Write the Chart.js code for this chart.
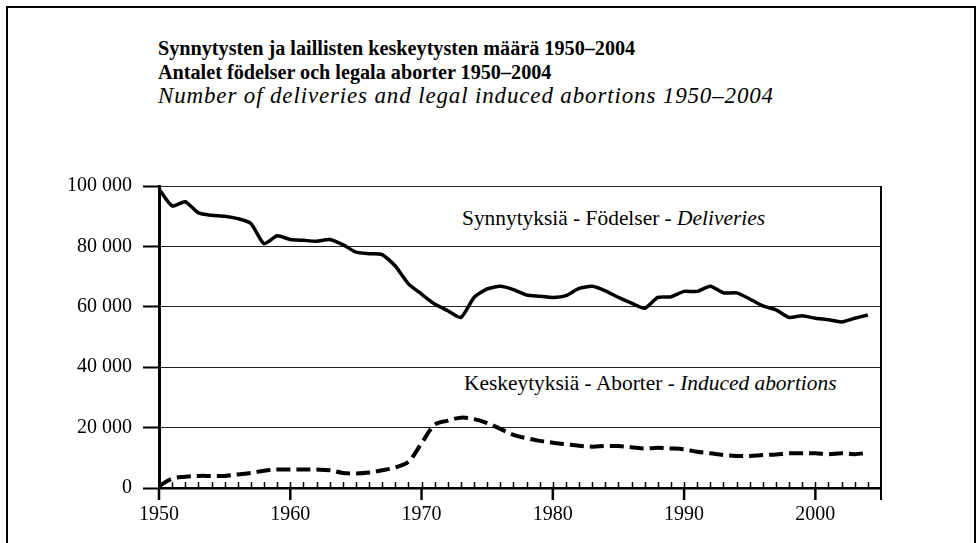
<!DOCTYPE html>
<html>
<head>
<meta charset="utf-8">
<script src="https://cdn.jsdelivr.net/npm/chart.js@4.4.1/dist/chart.umd.min.js"></script>
<style>
  html, body { margin: 0; padding: 0; background: #fff; }
  #wrap { position: relative; width: 976px; height: 543px; overflow: hidden; }
  #chart { position: absolute; left: 0; top: 0; }
  .frame { position: absolute; left: 6px; top: 6px; width: 966px; height: 600px;
           border: 2px solid #000; border-bottom: none; }
  .title { position: absolute; left: 158px; top: 36px; font-family: "Liberation Serif", serif;
           font-size: 20.2px; line-height: 24px; color: #000; white-space: nowrap; }
  .title b { font-weight: bold; }
  .title i { font-size: 23px; letter-spacing: 0.85px; }
  .lbl { position: absolute; font-family: "Liberation Serif", serif; font-size: 21.4px;
         line-height: 24px; color: #000; white-space: nowrap; }
</style>
</head>
<body>
<div id="wrap">
  <div class="frame"></div>
  <div class="title">
    <b>Synnytysten ja laillisten keskeytysten määrä 1950–2004</b><br>
    <b>Antalet födelser och legala aborter 1950–2004</b><br>
    <i>Number of deliveries and legal induced abortions 1950–2004</i>
  </div>
  <div class="lbl" style="left:462px; top:206px;">Synnytyksiä - Födelser - <i>Deliveries</i></div>
  <div class="lbl" style="left:464px; top:371px;">Keskeytyksiä - Aborter - <i>Induced abortions</i></div>
  <canvas id="chart" width="976" height="543"></canvas>
</div>
<script>
// years 1950-2004
const years = [];
for (let y = 1950; y <= 2004; y++) years.push(y);

const deliveries = [
  99000, 93400, 94800, 91100, 90300, 90000, 89200, 87600, 80900, 83500,
  82300, 82000, 81700, 82300, 80600, 78100, 77600, 77300, 73500, 67600,
  64200, 60900, 58700, 56500, 63100, 65900, 66800, 65700, 63900, 63500,
  63100, 63700, 66100, 66800, 65300, 63100, 61200, 59500, 63100, 63300,
  65100, 65100, 66800, 64600, 64600, 62600, 60300, 59000, 56500, 57000,
  56200, 55700, 55000, 56200, 57300
];

const abortions = [
  600, 3100, 3700, 4000, 4000, 4000, 4500, 5000, 5700, 6100,
  6100, 6100, 6100, 5900, 5000, 4800, 5100, 5900, 6800, 8700,
  14800, 20900, 22300, 23300, 22800, 21500, 19600, 17600, 16500, 15600,
  15000, 14500, 14000, 13700, 13900, 13900, 13500, 13100, 13300, 13100,
  12800, 12000, 11500, 10900, 10600, 10600, 10900, 11100, 11500, 11500,
  11500, 11200, 11500, 11200, 11700
];

const xLabels = [1950, 1960, 1970, 1980, 1990, 2000];
const yTicks = [0, 20000, 40000, 60000, 80000, 100000];

const fmt = v => v === 0 ? '0' : Math.floor(v / 1000) + ' 000';

// year ticks: small ones up, decade ones down, plus right border
const xTicksPlugin = {
  id: 'xTicks',
  afterDraw(chart) {
    const ctx = chart.ctx;
    const xs = chart.scales.x;
    const area = chart.chartArea;
    ctx.save();
    ctx.strokeStyle = '#000';
    ctx.lineWidth = 1.5;
    for (let y = 1951; y <= 2004; y++) {
      const px = Math.round(xs.getPixelForValue(y)) + 0.5;
      ctx.beginPath();
      ctx.moveTo(px, area.bottom);
      ctx.lineTo(px, area.bottom - 6);
      ctx.stroke();
    }
    ctx.lineWidth = 2.5;
    xLabels.forEach(y => {
      const px = xs.getPixelForValue(y);
      ctx.beginPath();
      ctx.moveTo(px, area.bottom);
      ctx.lineTo(px, area.bottom + 12);
      ctx.stroke();
    });
    const rx = xs.getPixelForValue(2005);
    ctx.lineWidth = 2;
    ctx.beginPath();
    ctx.moveTo(rx, area.top);
    ctx.lineTo(rx, area.bottom + 12);
    ctx.stroke();
    ctx.restore();
  }
};

new Chart(document.getElementById('chart'), {
  type: 'line',
  data: {
    datasets: [
      {
        label: 'Deliveries',
        data: years.map((y, i) => ({ x: y, y: deliveries[i] })),
        borderColor: '#000',
        borderWidth: 3.5,
        pointRadius: 0,
        tension: 0.2,
        fill: false
      },
      {
        label: 'Induced abortions',
        data: years.map((y, i) => ({ x: y, y: abortions[i] })),
        borderColor: '#000',
        borderWidth: 4,
        borderDash: [14, 6],
        pointRadius: 0,
        tension: 0.35,
        fill: false
      }
    ]
  },
  options: {
    responsive: false,
    animation: false,
    layout: { padding: { top: 186, right: 95, bottom: 0, left: 0 } },
    plugins: { legend: { display: false }, tooltip: { enabled: false } },
    scales: {
      x: {
        type: 'linear',
        min: 1950,
        max: 2005,
        afterBuildTicks: s => { s.ticks = xLabels.map(v => ({ value: v })); },
        afterFit: s => { s.height = 55; },
        grid: { display: false },
        border: { display: true, color: '#000', width: 2.5 },
        ticks: {
          color: '#000',
          padding: 7,
          font: { family: 'Liberation Serif', size: 20 },
          callback: v => String(v)
        }
      },
      y: {
        min: 0,
        max: 100000,
        afterBuildTicks: s => { s.ticks = yTicks.map(v => ({ value: v })); },
        afterFit: s => { s.width = 159; },
        grid: { color: '#222', lineWidth: 1, tickLength: 16, tickColor: '#000', tickWidth: 2 },
        border: { display: true, color: '#000', width: 3 },
        ticks: {
          color: '#000',
          padding: 11,
          font: { family: 'Liberation Serif', size: 20 },
          callback: v => fmt(v)
        }
      }
    }
  },
  plugins: [xTicksPlugin]
});
</script>
</body>
</html>
